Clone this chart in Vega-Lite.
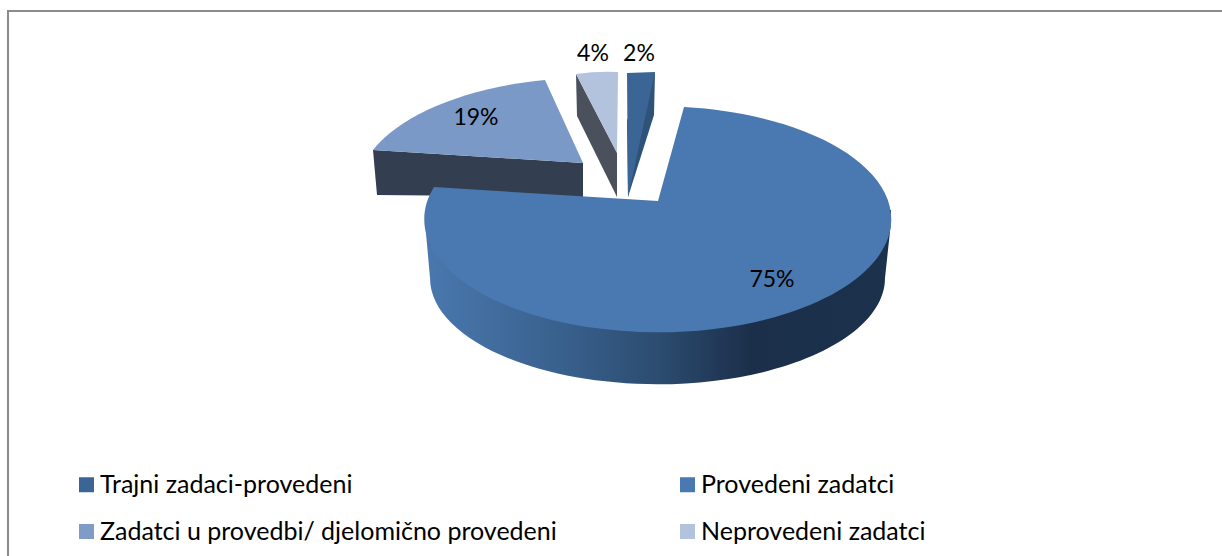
{
"$schema":"https://vega.github.io/schema/vega-lite/v6.json",
"width":1222,"height":556,"autosize":{"type":"none"},"padding":0,"background":"white",
"config":{"view":{"stroke":null},"font":"Lato"},
"data":{"values":[
{"category":"Trajni zadaci-provedeni","value":2,"label":"2%"},
{"category":"Provedeni zadatci","value":75,"label":"75%"},
{"category":"Zadatci u provedbi/ djelomično provedeni","value":19,"label":"19%"},
{"category":"Neprovedeni zadatci","value":4,"label":"4%"}
]},
"layer":[
{"mark":{"type":"rule","stroke":"#8c8c8c","strokeWidth":2},"encoding":{"x":{"value":8},"y":{"value":11},"y2":{"value":556}},"transform":[{"filter":"datum.value==75"}]},
{"mark":{"type":"rule","stroke":"#8c8c8c","strokeWidth":2},"encoding":{"x":{"value":7},"x2":{"value":1222},"y":{"value":11}},"transform":[{"filter":"datum.value==75"}]},
{"mark":{"type":"point","filled":true,"size":0,"shape":"square"},
"encoding":{"x":{"value":79},"y":{"value":485},
"color":{"field":"category","type":"nominal","sort":null,"scale":{"domain":["Trajni zadaci-provedeni","Zadatci u provedbi/ djelomično provedeni","Provedeni zadatci","Neprovedeni zadatci"],"range":["#3a6595","#7f9cc7","#4a78b0","#b3c2dd"]},
"legend":{"title":null,"orient":"none","legendX":74,"legendY":472,"columns":2,"symbolType":"square","symbolSize":225,"symbolOpacity":1,"labelFont":"Lato","labelFontSize":25,"labelColor":"#000000","labelOffset":1,"labelLimit":600,"columnPadding":118,"rowPadding":21,"padding":0}}}},
{"transform":[{"filter":"datum.value==19"}],"mark":{"type":"point","filled":true,"opacity":1,"size":4,"fill":"#343e51","stroke":null,"shape":"M373 150L583 163L583 197L377 195Z"},"encoding":{"x":{"value":0},"y":{"value":0}}},
{"transform":[{"filter":"datum.value==4"}],"mark":{"type":"point","filled":true,"opacity":1,"size":4,"fill":"#4a505c","stroke":null,"shape":"M576 74L617 153L617 197L577 116Z"},"encoding":{"x":{"value":0},"y":{"value":0}}},
{"transform":[{"filter":"datum.value==2"}],"mark":{"type":"point","filled":true,"opacity":1,"size":4,"fill":"#2f5278","stroke":null,"shape":"M655 72L654 115L628 197L627 120Z"},"encoding":{"x":{"value":0},"y":{"value":0}}},
{"transform":[{"filter":"datum.value==75"}],"mark":{"type":"point","filled":true,"opacity":1,"size":4,"stroke":null,
"fill":{"gradient":"linear","x1":0,"y1":0,"x2":1,"y2":0,"stops":[{"offset":0,"color":"#4a78ae"},{"offset":0.3,"color":"#38608c"},{"offset":0.5,"color":"#2c4c70"},{"offset":0.7,"color":"#1b2f4a"},{"offset":1,"color":"#1b324c"}]},
"shape":"M425 210L891 210L891 222L885 278A227 106 0 0 1 430 278L425 222Z"},"encoding":{"x":{"value":0},"y":{"value":0}}},
{"transform":[{"filter":"datum.value==2"}],"mark":{"type":"point","filled":true,"opacity":1,"size":4,"stroke":null,"fill":"#3a6595","shape":"M627 73L655 72L628 197Z"},"encoding":{"x":{"value":0},"y":{"value":0}}},
{"transform":[{"filter":"datum.value==75"}],"mark":{"type":"point","filled":true,"opacity":1,"size":4,"stroke":null,"fill":"#4a78b0","shape":"M658 201L684 107A233.5 113 0 1 1 434 187Z"},"encoding":{"x":{"value":0},"y":{"value":0}}},
{"transform":[{"filter":"datum.value==19"}],"mark":{"type":"point","filled":true,"opacity":1,"size":4,"stroke":null,"fill":"#7b99c6","shape":"M583 163L545 80A233 113 0 0 0 373 150Z"},"encoding":{"x":{"value":0},"y":{"value":0}}},
{"transform":[{"filter":"datum.value==4"}],"mark":{"type":"point","filled":true,"opacity":1,"size":4,"stroke":null,"fill":"#b3c2dd","shape":"M576 74Q597 71 618 72L617 153Z"},"encoding":{"x":{"value":0},"y":{"value":0}}},
{"transform":[{"filter":"datum.value==2"}],"mark":{"type":"text","font":"Lato","fontSize":23,"color":"#000","x":639,"y":54,"align":"center","baseline":"middle"},"encoding":{"text":{"field":"label"}}},
{"transform":[{"filter":"datum.value==4"}],"mark":{"type":"text","font":"Lato","fontSize":23,"color":"#000","x":593,"y":54,"align":"center","baseline":"middle"},"encoding":{"text":{"field":"label"}}},
{"transform":[{"filter":"datum.value==19"}],"mark":{"type":"text","font":"Lato","fontSize":23,"color":"#000","x":476,"y":118,"align":"center","baseline":"middle"},"encoding":{"text":{"field":"label"}}},
{"transform":[{"filter":"datum.value==75"}],"mark":{"type":"text","font":"Lato","fontSize":23,"color":"#000","x":772,"y":280,"align":"center","baseline":"middle"},"encoding":{"text":{"field":"label"}}}
]
}
